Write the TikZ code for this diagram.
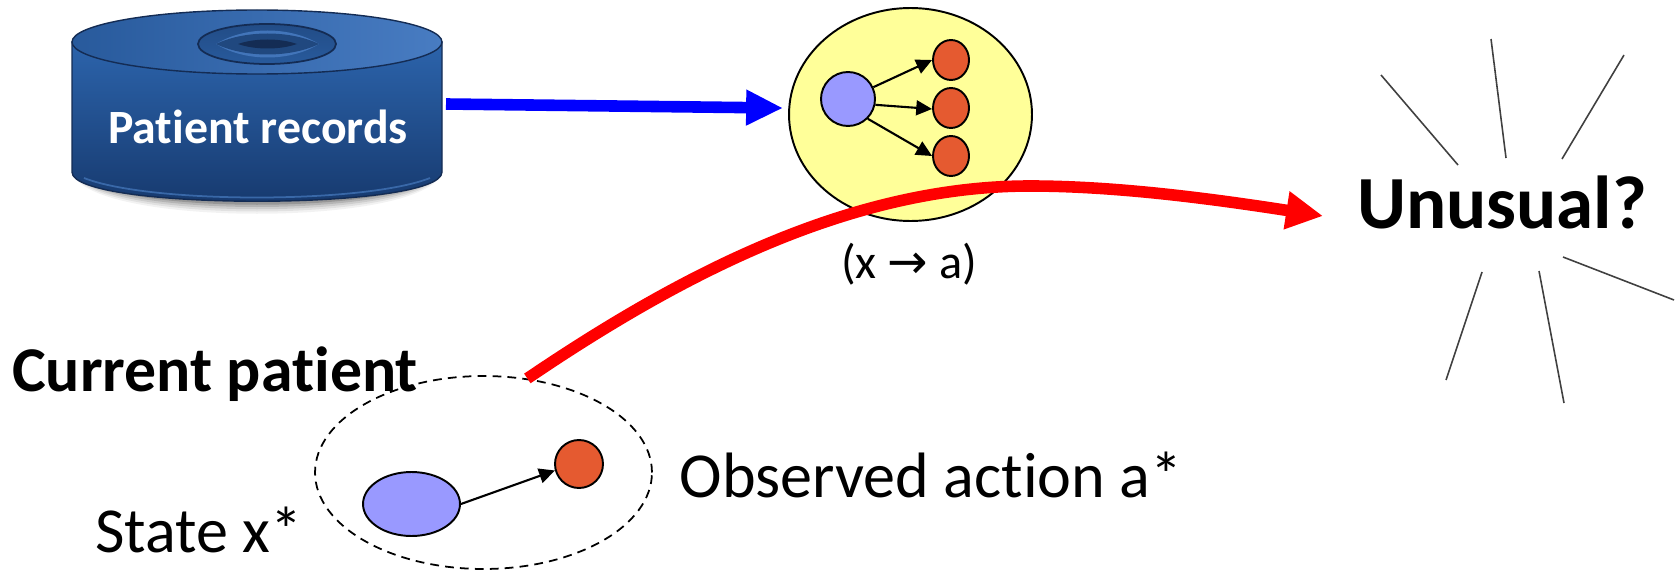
\documentclass[tikz,border=0pt]{standalone}
\usepackage{fontspec}
\setmainfont[Ligatures=NoCommon]{Carlito}
\newfontfamily\arrowfont{DejaVu Sans}
\usetikzlibrary{positioning,arrows.meta,calc,shapes.geometric}
\definecolor{BodyTop}{RGB}{44,100,172}
\definecolor{BodyLow}{RGB}{22,56,108}
\definecolor{LidLight}{RGB}{72,124,194}
\definecolor{LidDark}{RGB}{40,90,156}
\definecolor{RimDark}{RGB}{20,44,84}
\definecolor{NoteYellow}{RGB}{255,255,153}
\definecolor{StateBlue}{RGB}{153,153,255}
\definecolor{ActionRed}{RGB}{229,90,48}

\begin{document}
\begin{tikzpicture}[x=0.02cm, y=-0.02cm,
    every node/.style={inner sep=0pt},
    oval/.style={draw, ellipse, line width=1.1pt},
    statenode/.style={oval, fill=StateBlue},
    actionnode/.style={oval, fill=ActionRed},
    smallarrow/.style={-{Triangle[length=9pt, width=8.5pt]}, line width=1.2pt},
    bigarrow/.style={line width=6.6pt},
    label/.style={anchor=base, font=\fontsize{36.5}{40}\selectfont}]
  \useasboundingbox (0,0) rectangle (1676,571);

  \foreach \grow/\fade in {14/0.05, 11/0.07, 8/0.09, 5/0.12, 2/0.16}
    \fill[black, opacity=\fade] (72,165) .. controls (72-\grow,216+\grow) and (442+\grow,216+\grow) .. (442,165) -- cycle;
  \shade[top color=BodyTop, bottom color=BodyLow, draw=RimDark, line width=0.8pt]
    (72,42) -- (72,172) .. controls (72,211) and (442,211) .. (442,172) -- (442,42) -- cycle;
  \draw[LidLight!70!BodyLow, line width=1pt] (84,178) .. controls (150,204) and (364,204) .. (430,178);
  \shade[left color=LidDark, right color=LidLight, draw=RimDark, line width=0.8pt] (257,42) ellipse [x radius=185, y radius=32];
  \shade[top color=LidDark!70!RimDark, bottom color=LidDark, draw=RimDark, line width=1pt] (267,44) ellipse [x radius=69, y radius=20];
  \fill[LidLight!80!LidDark] (216,44) .. controls (245,26) and (290,26) .. (319,44) .. controls (290,62) and (245,62) .. (216,44) -- cycle;
  \fill[LidDark!60!RimDark] (216,44) .. controls (245,30) and (290,30) .. (319,44) .. controls (290,58) and (245,58) .. (216,44) -- cycle;
  \fill[RimDark] (238,44) .. controls (255,38) and (280,38) .. (297,44) .. controls (280,50) and (255,50) .. (238,44) -- cycle;
  \coordinate (dbout) at (446,104);
  \node[label, white, font=\bfseries\fontsize{27.2}{31}\selectfont] (rec) at (258,143) {Patient records};

  \node[oval, fill=NoteYellow, minimum width=4.86cm, minimum height=4.26cm] (bn) at (910.5,114.5) {};
  \node[statenode, minimum width=1.08cm, minimum height=1.08cm] (src) at (848,99) {};
  \node[actionnode, minimum width=0.72cm, minimum height=0.8cm] (out1) at (951,60) {};
  \node[actionnode, minimum width=0.72cm, minimum height=0.8cm] (out2) at (951,108) {};
  \node[actionnode, minimum width=0.72cm, minimum height=0.8cm] (out3) at (951,156) {};
  \draw[smallarrow] (src.25) -- (out1.west);
  \draw[smallarrow] (src.-12) -- (out2.183);
  \draw[smallarrow] (src.-45) -- (out3.west);
  \draw[bigarrow, blue, -{Triangle[length=21pt, width=19pt]}, shorten >=3pt] (dbout) -- (bn.177);
  \node[label, font=\fontsize{27.5}{31}\selectfont] (map) at (909,278) {(x {\arrowfont→} a)};

  \node[draw, dash pattern=on 5pt off 3.5pt, ellipse, line width=1pt, minimum width=6.74cm, minimum height=3.86cm] (cur) at (483.5,472.5) {};
  \node[statenode, minimum width=1.94cm, minimum height=1.28cm] (xst) at (411.5,504) {};
  \node[actionnode, minimum width=0.96cm, minimum height=0.96cm] (act) at (579,464) {};
  \draw[smallarrow] (xst.east) -- (act.195);
  \node[label, font=\bfseries\fontsize{36.3}{40}\selectfont] (pat) at (215,391) {Current patient};
  \node[label] (obs) at (931,497) {Observed action a*};
  \node[label] (sta) at (199,552) {State x*};

  \node[label, font=\bfseries\fontsize{42.7}{48}\selectfont] (unq) at (1502,228) {Unusual?};
  \coordinate (tip) at (1323,216);
  \draw[bigarrow, red, -{Triangle[length=21pt, width=20.5pt]}] (cur.65) .. controls (680,275) and (850,186) .. (1030,186) .. controls (1120,186) and (1220,200) .. (tip);

  \foreach \xa/\ya/\xb/\yb in {1381/75/1458/165, 1491/39/1506/158, 1624/55/1562/159, 1563/257/1674/300, 1539/271/1564/403, 1482/272/1446/380}
    \draw[black!75, line width=0.9pt] (\xa,\ya) -- (\xb,\yb);
\end{tikzpicture}
\end{document}
